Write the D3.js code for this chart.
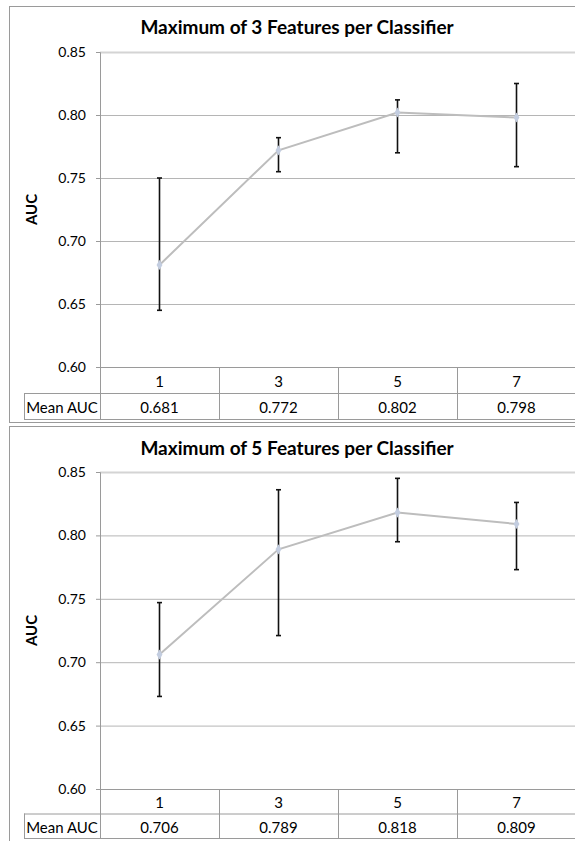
<!DOCTYPE html>
<html>
<head>
<meta charset="utf-8">
<script src="https://cdn.jsdelivr.net/npm/d3@7"></script>
<style>
  body { margin: 0; background: #fff; }
  svg { display: block; font-family: Lato, "Open Sans", sans-serif; }
</style>
</head>
<body>
<div id="chart"></div>
<script>
const width = 575;
const height = 841;

// data
const categories = ['1', '3', '5', '7'];
const yTicks = [0.60, 0.65, 0.70, 0.75, 0.80, 0.85];
const titles = ['Maximum of 3 Features per Classifier', 'Maximum of 5 Features per Classifier'];

const mean3 = [0.681, 0.772, 0.802, 0.798];
const low3 = [0.645, 0.755, 0.770, 0.759];
const high3 = [0.750, 0.782, 0.812, 0.825];

const mean5 = [0.706, 0.789, 0.818, 0.809];
const low5 = [0.673, 0.721, 0.795, 0.773];
const high5 = [0.747, 0.836, 0.845, 0.826];

const svg = d3.select('#chart')
    .append('svg')
    .attr('width', width)
    .attr('height', height);

const plotLeft = 100;
const plotRight = 576;

function drawPanel(cfg) {
    const g = svg.append('g');

    // outer chart border
    g.append('rect')
        .attr('x', 9.5)
        .attr('y', cfg.boxTop + 0.5)
        .attr('width', 620)
        .attr('height', cfg.boxBottom - cfg.boxTop)
        .attr('fill', '#fff')
        .attr('stroke', '#9a9a9a');

    g.append('text')
        .attr('x', 297)
        .attr('y', cfg.titleY)
        .attr('text-anchor', 'middle')
        .attr('dominant-baseline', 'central')
        .style('font-weight', 'bold')
        .style('font-size', '19px')
        .text(cfg.title);

    const x = d3.scaleBand()
        .domain(categories)
        .range([plotLeft, plotRight])
        .padding(0);

    const y = d3.scaleLinear()
        .domain([0.6, 0.85])
        .range([cfg.plotBottom, cfg.plotTop]);

    // gridlines
    const grid = g.append('g')
        .attr('transform', `translate(${plotLeft},0)`)
        .call(d3.axisLeft(y).tickValues(yTicks).tickSize(-(plotRight - plotLeft)).tickFormat(''));
    grid.select('.domain').remove();
    grid.selectAll('.tick line')
        .attr('stroke', d => d === 0.85 ? '#d4d4d4' : '#b5b5b5')
        .attr('stroke-width', d => d === 0.85 ? 2 : 1);

    // y axis
    const yAxis = g.append('g')
        .attr('transform', `translate(${plotLeft},0)`)
        .call(d3.axisLeft(y).tickValues(yTicks).tickSize(4).tickPadding(10).tickFormat(d3.format('.2f')));
    yAxis.select('.domain').attr('stroke', '#9a9a9a');
    yAxis.selectAll('.tick line').attr('stroke', '#9a9a9a');
    yAxis.selectAll('.tick text')
        .style('font-size', '14px')
        .style('font-family', 'Lato, sans-serif')
        .attr('fill', '#000');

    g.append('text')
        .attr('transform', `translate(31,${(cfg.plotTop + cfg.plotBottom) / 2}) rotate(-90)`)
        .attr('text-anchor', 'middle')
        .attr('dominant-baseline', 'central')
        .style('font-weight', 'bold')
        .style('font-size', '15px')
        .text('AUC');

    // data table below plot
    const row1 = cfg.plotBottom, row2 = cfg.plotBottom + cfg.rowH, row3 = cfg.plotBottom + 2 * cfg.rowH;
    const tbl = g.append('g').attr('stroke', '#9a9a9a').attr('fill', 'none');
    tbl.append('line').attr('x1', plotLeft).attr('x2', plotRight).attr('y1', row1 + 0.5).attr('y2', row1 + 0.5);
    tbl.append('line').attr('x1', 24).attr('x2', plotRight).attr('y1', row2 + 0.5).attr('y2', row2 + 0.5);
    tbl.append('line').attr('x1', 24).attr('x2', plotRight).attr('y1', row3 + 0.5).attr('y2', row3 + 0.5);
    tbl.append('line').attr('x1', 24.5).attr('x2', 24.5).attr('y1', row2).attr('y2', row3);
    tbl.selectAll('line.col')
        .data(categories)
        .enter()
        .append('line')
        .attr('class', 'col')
        .attr('x1', d => Math.round(x(d)) + 0.5)
        .attr('x2', d => Math.round(x(d)) + 0.5)
        .attr('y1', row1)
        .attr('y2', row3);

    g.selectAll('text.cat')
        .data(categories)
        .enter()
        .append('text')
        .attr('class', 'cat')
        .attr('x', d => x(d) + x.bandwidth() / 2)
        .attr('y', (row1 + row2) / 2 + 1)
        .attr('text-anchor', 'middle')
        .attr('dominant-baseline', 'central')
        .style('font-size', '15px')
        .text(d => d);

    g.append('text')
        .attr('x', 62)
        .attr('y', (row2 + row3) / 2 + 1)
        .attr('text-anchor', 'middle')
        .attr('dominant-baseline', 'central')
        .style('font-size', '15px')
        .text('Mean AUC');

    g.selectAll('text.val')
        .data(cfg.means)
        .enter()
        .append('text')
        .attr('class', 'val')
        .attr('x', (d, i) => x(categories[i]) + x.bandwidth() / 2)
        .attr('y', (row2 + row3) / 2 + 1)
        .attr('text-anchor', 'middle')
        .attr('dominant-baseline', 'central')
        .style('font-size', '15px')
        .text(d => d3.format('.3f')(d));

    const cx = i => x(categories[i]) + x.bandwidth() / 2;

    // line
    const line = d3.line()
        .x((d, i) => cx(i))
        .y(d => y(d));
    g.append('path')
        .datum(cfg.means)
        .attr('d', line)
        .attr('fill', 'none')
        .attr('stroke', '#bdbdbd')
        .attr('stroke-width', 2);

    // error bars
    const eb = g.append('g').attr('stroke', '#111').attr('stroke-width', 1.6);
    cfg.means.forEach((m, i) => {
        eb.append('line')
            .attr('x1', cx(i)).attr('x2', cx(i))
            .attr('y1', y(cfg.lows[i])).attr('y2', y(cfg.highs[i]));
        eb.append('line')
            .attr('x1', cx(i) - 2.5).attr('x2', cx(i) + 2.5)
            .attr('y1', y(cfg.lows[i])).attr('y2', y(cfg.lows[i]));
        eb.append('line')
            .attr('x1', cx(i) - 2.5).attr('x2', cx(i) + 2.5)
            .attr('y1', y(cfg.highs[i])).attr('y2', y(cfg.highs[i]));
    });

    // markers
    g.selectAll('path.marker')
        .data(cfg.means)
        .enter()
        .append('path')
        .attr('class', 'marker')
        .attr('d', d3.symbol(d3.symbolDiamond, 30))
        .attr('transform', (d, i) => `translate(${cx(i)},${y(d)})`)
        .attr('fill', '#c3cde0');
}

drawPanel({
    title: titles[0],
    boxTop: 6, boxBottom: 422,
    titleY: 26,
    plotTop: 52, plotBottom: 367,
    rowH: 26,
    means: mean3, lows: low3, highs: high3
});

drawPanel({
    title: titles[1],
    boxTop: 426, boxBottom: 860,
    titleY: 447,
    plotTop: 472, plotBottom: 789,
    rowH: 24.5,
    means: mean5, lows: low5, highs: high5
});
</script>
</body>
</html>
